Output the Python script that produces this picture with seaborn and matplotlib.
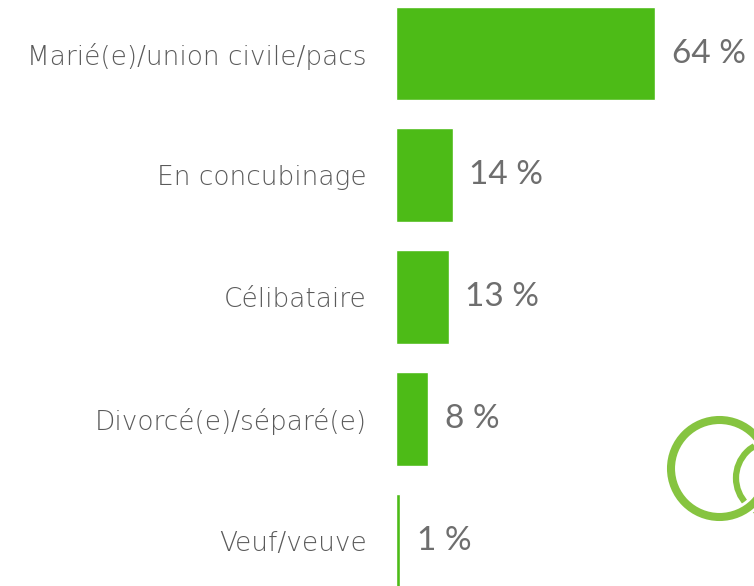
import matplotlib
matplotlib.use("Agg")
import matplotlib.pyplot as plt
import seaborn as sns
import pandas as pd
from matplotlib.patches import Circle

categories = ["Marié(e)/union civile/pacs", "En concubinage", "Célibataire",
              "Divorcé(e)/séparé(e)", "Veuf/veuve"]
values = [64, 14, 13, 8, 1]
value_labels = ["64 %", "14 %", "13 %", "8 %", "1 %"]

sns.set_style("white")
plt.rcParams['font.family'] = ['Lato', 'DejaVu Sans']

BAR = "#4dbb17"
RING = "#86c440"
GREY = "#6e6e6e"

df = pd.DataFrame({"cat": categories, "val": values})

fig = plt.figure(figsize=(7.54, 5.86), dpi=100)
ax = fig.add_axes([396 / 754, 0, 358 / 754, 1])

sns.barplot(data=df, x="val", y="cat", orient="h", color=BAR, width=0.77,
            saturation=1, ax=ax)

ax.set_xlim(0, 358 / 4.05)
ax.set_ylim(4.369, -0.439)
ax.set_xlabel("")
ax.set_ylabel("")
ax.set_xticks([])
ax.tick_params(axis="y", length=0, pad=21, labelsize=19, labelcolor="#5a5a5a")
for lab in ax.get_yticklabels():
    lab.set_fontfamily(["DejaVu Sans"])
    lab.set_fontweight(200)
for s in ax.spines.values():
    s.set_visible(False)

for i, (v, t) in enumerate(zip(values, value_labels)):
    ax.annotate(t, (v, i), xytext=(12, 0), textcoords="offset points",
                va="center", ha="left", fontsize=24, color=GREY)

# decorative rings, bottom right
deco = fig.add_axes([0, 0, 1, 1], zorder=5)
deco.set_xlim(0, 754)
deco.set_ylim(586, 0)
deco.axis("off")
deco.add_patch(Circle((773, 478), 37, fill=False, lw=4.5, ec=RING))
deco.add_patch(Circle((719.5, 468.5), 48.5, fill=False, lw=10, ec="white"))
deco.add_patch(Circle((719.5, 468.5), 48.5, fill=False, lw=5.8, ec=RING))

fig.savefig("out.png", dpi=100)
